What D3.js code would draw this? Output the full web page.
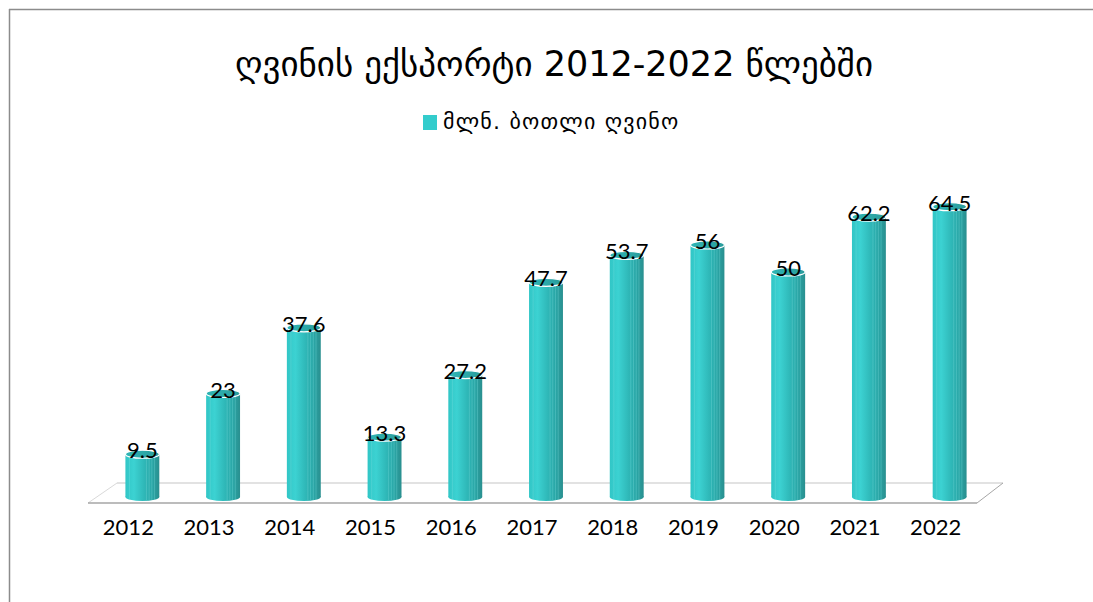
<!DOCTYPE html>
<html><head><meta charset="utf-8">
<script src="https://cdn.jsdelivr.net/npm/d3@7"></script>
<style>html,body{margin:0;padding:0;background:#fff;}svg{display:block;}</style>
</head><body>
<svg id="c" width="1093" height="602"></svg>
<script>
const categories = ["2012","2013","2014","2015","2016","2017","2018","2019","2020","2021","2022"];
const values = [9.5, 23, 37.6, 13.3, 27.2, 47.7, 53.7, 56, 50, 62.2, 64.5];
const labels = ["9.5","23","37.6","13.3","27.2","47.7","53.7","56","50","62.2","64.5"];
const title = "ღვინის ექსპორტი 2012-2022 წლებში";
const seriesName = "მლნ. ბოთლი ღვინო";

const svg = d3.select("#c");
const latin = "Lato, 'Open Sans', sans-serif";
const geo = "'DejaVu Sans', sans-serif";

// frame
svg.append("line").attr("x1",9).attr("y1",9.5).attr("x2",1093).attr("y2",9.5).attr("stroke","#8c8c8c").attr("stroke-width",1.5);
svg.append("line").attr("x1",9.5).attr("y1",9).attr("x2",9.5).attr("y2",602).attr("stroke","#8c8c8c").attr("stroke-width",1.5);

const defs = svg.append("defs");
const g = defs.append("linearGradient").attr("id","cyl").attr("x1","0").attr("x2","1").attr("y1","0").attr("y2","0");
[[0,"#31c6c6"],[0.25,"#3cd2d2"],[0.55,"#2fb8b8"],[0.8,"#2aa5a5"],[1,"#2a8f8f"]].forEach(([o,c])=>g.append("stop").attr("offset",o).attr("stop-color",c));
const gt = defs.append("linearGradient").attr("id","cyltop").attr("x1","0").attr("x2","1");
[[0,"#2fb5b5"],[1,"#2a9c9c"]].forEach(([o,c])=>gt.append("stop").attr("offset",o).attr("stop-color",c));

const x = d3.scaleBand().domain(categories).range([102, 990]).paddingInner(0.58).paddingOuter(0.29);
const y = d3.scaleLinear().domain([0, 70]).range([497, 497 - 70*4.5]);

// floor
const fl = svg.append("g");
fl.append("path").attr("d", "M88,503 L117,483 L1003,483 L977,503 Z").attr("fill","#fff").attr("stroke","none");
fl.append("line").attr("x1",117).attr("y1",483).attr("x2",1003).attr("y2",483).attr("stroke","#d9d9d9").attr("stroke-width",1.5);
fl.append("line").attr("x1",88).attr("y1",503).attr("x2",117).attr("y2",483).attr("stroke","#d9d9d9").attr("stroke-width",1);
fl.append("line").attr("x1",977).attr("y1",503).attr("x2",1003).attr("y2",483).attr("stroke","#a6a6a6").attr("stroke-width",1);
fl.append("line").attr("x1",88).attr("y1",503).attr("x2",977).attr("y2",503).attr("stroke","#a6a6a6").attr("stroke-width",1.5);

const bw = x.bandwidth();
const ry = 4;
const bars = svg.append("g").selectAll("g").data(categories).join("g");
bars.each(function(c,i){
  const s = d3.select(this);
  const x0 = x(c), cx = x0 + bw/2, yt = y(values[i]), yb = y(0);
  s.append("ellipse").attr("cx",cx).attr("cy",yb).attr("rx",bw/2).attr("ry",ry).attr("fill","url(#cyl)");
  s.append("rect").attr("x",x0).attr("y",yt).attr("width",bw).attr("height",yb-yt).attr("fill","url(#cyl)");
  [0.12,0.62,0.7,0.78,0.86].forEach(f=>s.append("line").attr("x1",x0+bw*f).attr("x2",x0+bw*f).attr("y1",yt).attr("y2",yb+ry-1).attr("stroke","#7fe0e0").attr("stroke-opacity",0.45).attr("stroke-width",0.7));
  s.append("ellipse").attr("cx",cx).attr("cy",yt).attr("rx",bw/2).attr("ry",ry).attr("fill","url(#cyltop)").attr("stroke","#ffffff").attr("stroke-width",1.2);
  s.append("text").attr("x",cx).attr("y",yt+4).attr("text-anchor","middle").attr("font-family",latin).attr("font-size",22).attr("fill","#000").text(labels[i]);
});

// axis labels (front edge of floor, shifted left by perspective)
const ax = d3.axisBottom(x).tickSize(0).tickPadding(0);
const axg = svg.append("g").attr("transform","translate(-14,535)").call(ax);
axg.select(".domain").remove();
axg.selectAll("text").attr("font-family",latin).attr("font-size",22).attr("fill","#000").attr("dy","0").attr("y",0);

// title
svg.append("text").attr("x",554).attr("y",76).attr("text-anchor","middle").attr("font-family",geo).attr("font-size",35).attr("fill","#000").text(title);
// legend
svg.append("rect").attr("x",423).attr("y",115).attr("width",14).attr("height",15).attr("fill","#33cccc");
svg.append("text").attr("x",443).attr("y",129).attr("font-family",geo).attr("font-size",22).attr("letter-spacing",1.2).attr("fill","#000").text(seriesName);
</script>
</body></html>
